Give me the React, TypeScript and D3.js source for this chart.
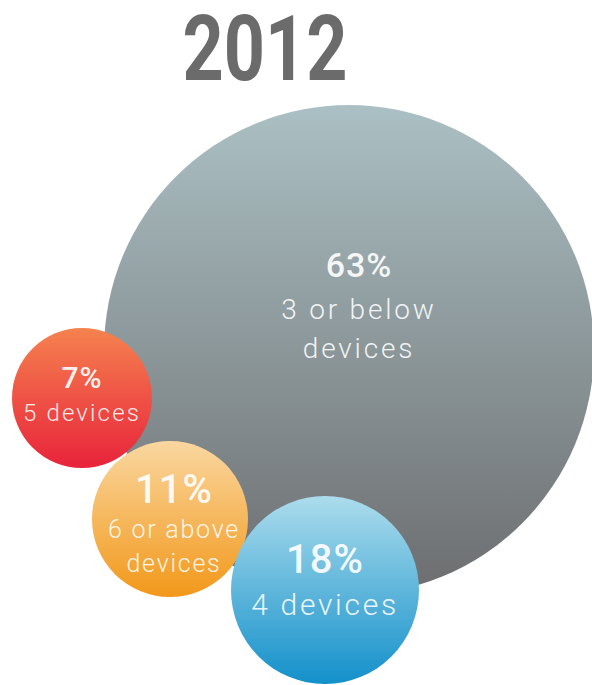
import React from "react";
import * as d3 from "d3";

const title = "2012";
const categories = ["3 or below devices", "5 devices", "6 or above devices", "4 devices"];
const values = [63, 7, 11, 18];
const percentLabels = ["63%", "7%", "11%", "18%"];
const labelLines = [["3 or below", "devices"], ["5 devices"], ["6 or above", "devices"], ["4 devices"]];
const gradientTop = ["#abc0c4", "#f5824f", "#f9d7a0", "#acdcec"];
const gradientBottom = ["#6c6d6f", "#e8233b", "#f2981a", "#1390ca"];

// layout (centres, label offsets, font sizes)
const centers: [number, number][] = [[349, 350], [82, 398], [170, 519], [325, 590]];
const pctOffset = [-73, -10, -16, -17];
const lineOffsets = [[-31, 8], [23], [19, 53], [25]];
const textDx = [10, 0, 4, 0];
const pctSize = [34, 30, 40, 40];
const lineSize = [28, 24, 25, 30];
const spacing = [0.1, 0.09, 0.07, 0.09];

const W = 592;
const H = 685;

export default function App() {
  const r = d3.scaleLinear().domain([7, 11, 18, 63]).range([70, 78, 94, 245]);
  return (
    <svg width={W} height={H} style={{ position: "absolute", left: 0, top: 0, background: "#fff" }}>
      <defs>
        {categories.map((c, i) => (
          <linearGradient key={c} id={`g${i}`} x1="0" y1="0" x2="0" y2="1">
            <stop offset="0%" stopColor={gradientTop[i]} />
            <stop offset="100%" stopColor={gradientBottom[i]} />
          </linearGradient>
        ))}
      </defs>
      <text
        x={265}
        y={80}
        textAnchor="middle"
        fontFamily="Roboto, 'DejaVu Sans', sans-serif"
        fontWeight={700}
        fontSize={91}
        fill="#6b6b6b"
        textLength={165}
        lengthAdjust="spacingAndGlyphs"
      >
        {title}
      </text>
      {categories.map((c, i) => {
        const [cx, cy] = centers[i];
        return (
          <g key={c}>
            <circle cx={cx} cy={cy} r={r(values[i])} fill={`url(#g${i})`} />
            <text
              x={cx + textDx[i]}
              y={cy + pctOffset[i]}
              textAnchor="middle"
              fontFamily="Roboto, 'Open Sans', sans-serif"
              fontWeight={500}
              fontSize={pctSize[i]}
              fill="#ffffff"
              fillOpacity={0.93}
              letterSpacing={1}
            >
              {percentLabels[i]}
            </text>
            {labelLines[i].map((ln, j) => (
              <text
                key={j}
                x={cx + textDx[i]}
                y={cy + lineOffsets[i][j]}
                textAnchor="middle"
                fontFamily="Roboto, 'Open Sans', sans-serif"
                fontWeight={300}
                fontSize={lineSize[i]}
                fill="#ffffff"
                fillOpacity={0.9}
                letterSpacing={lineSize[i] * spacing[i]}
              >
                {ln}
              </text>
            ))}
          </g>
        );
      })}
    </svg>
  );
}
